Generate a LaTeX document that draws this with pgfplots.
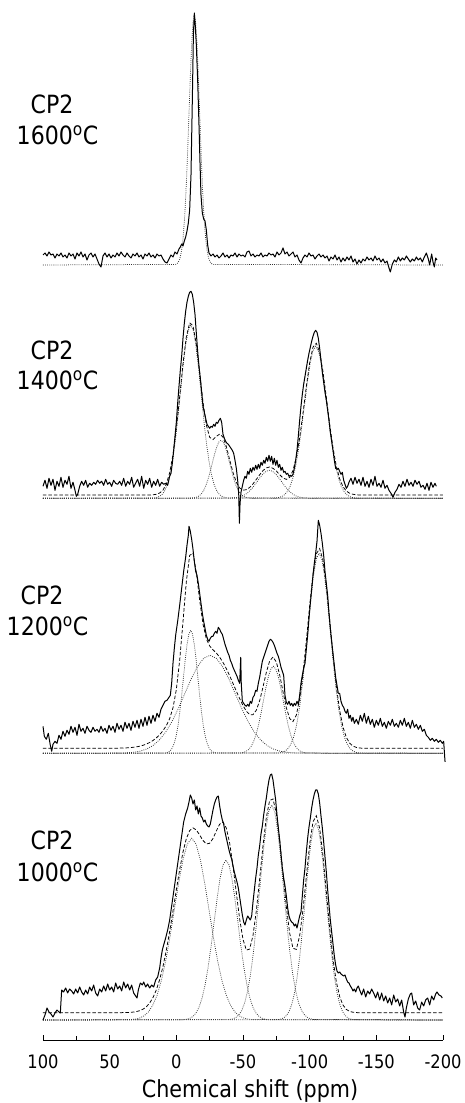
\documentclass[border=0pt]{standalone}
\usepackage{fontspec}
\setmainfont{DejaVu Sans}[FakeStretch=0.88]
\usepackage{pgfplots}
\pgfplotsset{compat=1.18}
\begin{document}
\begin{tikzpicture}[x=1pt,y=1pt]
\path[use as bounding box] (0,0) rectangle (465,1103);
\pgfplotsset{
  panel/.style={x=1.333333pt, y=1pt, xmin=-200, xmax=100, x dir=reverse,
    ymin=-30, ymax=260, hide axis, clip=false, anchor=south west},
  spec/.style={black, line width=1.0pt, line join=round, mark=none},
  fit/.style={black, line width=0.75pt, dash pattern=on 3.5pt off 2pt, mark=none},
  comp/.style={black!80, line width=0.75pt, dash pattern=on 0.8pt off 1.3pt, mark=none},
}
\newcommand{\lab}{\fontsize{25.1}{30}\selectfont}
% ---------------- 1600 ----------------
\begin{axis}[panel, at={(43pt,808pt)}]
\addplot[comp] coordinates {(100,0) (0.5,0.6) (-0.5,1.3) (-1.5,2.8) (-2.5,5.7) (-3.5,11.0) (-4.5,19.9) (-5.5,33.8) (-6.5,54.1) (-7.5,81.2) (-8.5,114.5) (-9.5,151.6) (-10.5,188.7) (-11.5,220.6) (-12.5,242.3) (-13.5,250) (-14.5,242.3) (-15.5,220.6) (-16.5,188.7) (-17.5,151.6) (-18.5,114.5) (-19.5,81.2) (-20.5,54.1) (-21.5,33.8) (-22.5,19.9) (-23.5,11.0) (-24.5,5.7) (-25.5,2.8) (-26.5,1.3) (-27.5,0.6) (-200,0)};
\addplot[spec] coordinates {(100,10) (98.5,12) (97,9) (95.5,13) (94,10) (92.5,11) (91,7) (89.5,11) (88,9) (86.5,12) (85,8) (83.5,10) (82,7) (80.5,12) (79,9) (77.5,11) (76,6) (74.5,12) (73,9) (71.5,13) (70,8) (68.5,11) (67,5) (65.5,10) (64,12) (62.5,8) (61,11) (59.5,6) (58,1) (56.5,-2) (55,9) (53.5,12) (52,8) (50.5,11) (49,7) (47.5,10) (46,8) (44.5,12) (43,9) (41.5,13) (40,10) (38.5,8) (37,12) (35.5,9) (34,7) (32.5,11) (31,9) (29.5,12) (28,8) (26.5,10) (25,6) (23.5,11) (22,9) (20.5,12) (19,8) (17.5,10) (16,7) (14.5,11) (13,9) (11.5,10) (10,6) (8.5,3) (7,2) (5.5,6) (4,10) (2.5,8) (1,13) (-0.5,11) (-2,16) (-3,18) (-4,21) (-5,19) (-6,24) (-7,28) (-8,34) (-9,42) (-10,55) (-11,90) (-12,165) (-12.8,230) (-13.5,252) (-14.2,240) (-15,220) (-16,185) (-17,140) (-17.8,100) (-18.5,70) (-19.5,52) (-20.5,46) (-21.5,44) (-22.5,35) (-23.5,20) (-24.5,12) (-26,9) (-27.5,11) (-29,8) (-30.5,10) (-32,7) (-33.5,9) (-35,12) (-36.5,8) (-38,10) (-39.5,7) (-41,10) (-42.5,9) (-44,12) (-45.5,8) (-47,11) (-48.5,9) (-50,10) (-51.5,8) (-53,13) (-54.5,14) (-56,9) (-57.5,11) (-59,8) (-60.5,10) (-62,9) (-63.5,12) (-65,8) (-66.5,10) (-68,9) (-69.5,12) (-71,10) (-72.5,11) (-74,8) (-75.5,13) (-77,10) (-78.5,12) (-80,17) (-81.5,11) (-83,13) (-84.5,9) (-86,11) (-87.5,13) (-89,8) (-90.5,10) (-92,5) (-93.5,2) (-95,7) (-96.5,10) (-98,8) (-99.5,12) (-101,9) (-102.5,10) (-104,6) (-105.5,9) (-107,11) (-108.5,8) (-110,10) (-111.5,7) (-113,9) (-114.5,4) (-116,8) (-117.5,6) (-119,10) (-120.5,5) (-122,8) (-123.5,3) (-125,7) (-126.5,4) (-128,8) (-129.5,5) (-131,9) (-132.5,3) (-134,6) (-135.5,1) (-137,5) (-138.5,2) (-140,6) (-141.5,4) (-143,8) (-144.5,5) (-146,7) (-147.5,4) (-149,9) (-150.5,5) (-152,7) (-153.5,3) (-155,6) (-156.5,2) (-158,4) (-159.5,-3) (-160.5,-7) (-162,1) (-163.5,5) (-165,3) (-166.5,8) (-168,4) (-169.5,7) (-171,5) (-172.5,9) (-174,6) (-175.5,3) (-177,6) (-178.5,4) (-180,8) (-181.5,5) (-183,7) (-184.5,3) (-186,8) (-187.5,12) (-189,6) (-190,0) (-191.5,11) (-192.5,3) (-193.5,-2) (-194.5,7) (-195.5,5)};
\end{axis}
% ---------------- 1400 ----------------
\begin{axis}[panel, at={(43pt,574.7pt)}]
\addplot[comp] coordinates {(100,0) (16.5,0.4) (14.55,0.9) (12.6,1.9) (10.65,3.9) (8.7,7.6) (6.75,13.8) (4.8,23.4) (2.85,37.4) (0.9,56.2) (-1.05,79.2) (-3,104.9) (-4.95,130.6) (-6.9,152.7) (-8.85,167.7) (-10.8,173) (-12.75,167.7) (-14.7,152.7) (-16.65,130.6) (-18.6,104.9) (-20.55,79.2) (-22.5,56.2) (-24.45,37.4) (-26.4,23.4) (-28.35,13.8) (-30.3,7.6) (-32.25,3.9) (-34.2,1.9) (-36.15,0.9) (-38.1,0.4) (-200,0)};
\addplot[comp] coordinates {(100,0) (-10.75,0.1) (-12.375,0.3) (-14,0.6) (-15.625,1.3) (-17.25,2.5) (-18.875,4.6) (-20.5,7.8) (-22.125,12.5) (-23.75,18.8) (-25.375,26.6) (-27,35.2) (-28.625,43.8) (-30.25,51.2) (-31.875,56.2) (-33.5,58) (-35.125,56.2) (-36.75,51.2) (-38.375,43.8) (-40,35.2) (-41.625,26.6) (-43.25,18.8) (-44.875,12.5) (-46.5,7.8) (-48.125,4.6) (-49.75,2.5) (-51.375,1.3) (-53,0.6) (-54.625,0.3) (-56.25,0.1) (-200,0)};
\addplot[comp] coordinates {(100,0) (-38.25,0.06) (-40.5,0.1) (-42.75,0.3) (-45,0.6) (-47.25,1.2) (-49.5,2.2) (-51.75,3.8) (-54,6.1) (-56.25,9.1) (-58.5,12.8) (-60.75,17.0) (-63,21.1) (-65.25,24.7) (-67.5,27.1) (-69.75,28) (-72,27.1) (-74.25,24.7) (-76.5,21.1) (-78.75,17.0) (-81,12.8) (-83.25,9.1) (-85.5,6.1) (-87.75,3.8) (-90,2.2) (-92.25,1.2) (-94.5,0.6) (-96.75,0.3) (-99,0.1) (-101.25,0.06) (-200,0)};
\addplot[comp] coordinates {(100,0) (-74.75,0.3) (-76.875,0.8) (-79,1.7) (-81.125,3.5) (-83.25,6.7) (-85.375,12.1) (-87.5,20.6) (-89.625,32.9) (-91.75,49.4) (-93.875,69.6) (-96,92.2) (-98.125,114.7) (-100.25,134.1) (-102.375,147.3) (-104.5,152) (-106.625,147.3) (-108.75,134.1) (-110.875,114.7) (-113,92.2) (-115.125,69.6) (-117.25,49.4) (-119.375,32.9) (-121.5,20.6) (-123.625,12.1) (-125.75,6.7) (-127.875,3.5) (-130,1.7) (-132.125,0.8) (-134.25,0.3) (-200,0)};
\addplot[fit] coordinates {(100,3.3) (20,3.3) (17.5,3.5) (15,4.0) (12.5,5.3) (10,8.2) (7.5,14.3) (5,25.5) (2.5,43.7) (0,69.7) (-2.5,101.5) (-5,134.6) (-7.5,161.5) (-10,175.5) (-12.5,172.5) (-15,154.0) (-17.5,125.7) (-20,96.3) (-22.5,73.4) (-25,61.0) (-27.5,58.7) (-30,61.9) (-32.5,64.2) (-35,61.2) (-37.5,51.8) (-40,38.6) (-42.5,25.8) (-45,16.0) (-47.5,10.3) (-50,8.1) (-52.5,8.6) (-55,10.8) (-57.5,14.4) (-60,18.9) (-62.5,23.5) (-65,27.7) (-67.5,30.4) (-70,31.3) (-72.5,30.0) (-75,27.3) (-77.5,23.6) (-80,20.3) (-82.5,18.9) (-85,20.9) (-87.5,27.9) (-90,41.0) (-92.5,60.5) (-95,85.2) (-97.5,111.8) (-100,135.4) (-102.5,151.2) (-105,155.0) (-107.5,146.1) (-110,126.6) (-112.5,100.9) (-115,74.2) (-117.5,50.5) (-120,32.1) (-122.5,19.5) (-125,11.6) (-127.5,7.2) (-130,5.0) (-132.5,4.0) (-135,3.5) (-137.5,3.3) (-200,3.3)};
\addplot[spec] coordinates {(100,12) (98.5,18) (97,10) (95.5,20) (94,13) (92.5,19) (91,8) (89.5,17) (88,12) (86.5,21) (85,11) (83.5,18) (82,14) (80.5,22) (79,10) (77.5,16) (76,8) (75,2) (74,4) (72.5,12) (71,17) (69.5,13) (68,18) (66.5,11) (65,15) (63.5,13) (62,16) (60.5,14) (59,18) (57.5,15) (56,17) (54.5,13) (53,19) (51.5,14) (50,16) (48.5,12) (47,18) (45.5,15) (44,14) (42.5,17) (41,13) (39.5,20) (38,12) (36.5,17) (35,14) (33.5,21) (32,11) (30.5,15) (29,19) (27.5,12) (26,22) (24.5,10) (23,18) (21.5,14) (20,20) (18.5,11) (17,17) (15.5,13) (14,19) (12.5,12) (11,16) (9.5,14) (8,15) (6.5,13) (5,22) (4,25) (3,35) (2,48) (1,62) (0,76) (-1,95) (-2,112) (-3,128) (-4,142) (-5,160) (-6,175) (-7,187) (-8,196) (-9,202) (-10,206) (-11,207) (-12,204) (-13,196) (-14,184) (-15,165) (-16,147) (-17,132) (-18,120) (-19,106) (-20,92) (-21,86) (-22,80) (-23,74) (-24,72) (-25,70) (-26,72) (-27,71) (-28,74) (-29,72) (-30,76) (-31,75) (-32,78) (-33,80) (-34,76) (-35,64) (-36,60) (-37,57) (-38,55) (-39,54) (-40,52) (-41,50) (-42,48) (-43,45) (-44,38) (-45,30) (-46,18) (-46.8,4) (-47.3,-25) (-47.8,-5) (-48.5,6) (-49.5,12) (-50.5,18) (-51.5,22) (-52.5,20) (-53.5,27) (-54.5,24) (-55.5,30) (-56.5,26) (-57.5,31) (-58.5,28) (-59.5,33) (-60.5,29) (-61.5,34) (-62.5,30) (-63.5,36) (-64.5,33) (-65.5,38) (-66.5,35) (-67.5,41) (-68.5,37) (-69.5,43) (-70.5,37) (-71.5,42) (-72.5,34) (-73.5,40) (-74.5,33) (-75.5,38) (-76.5,31) (-77.5,34) (-78.5,28) (-79.5,31) (-80.5,26) (-81.5,27) (-82.5,24) (-83.5,25) (-84.5,22) (-85.5,23) (-86.5,22) (-87.5,24) (-88.5,30) (-89.5,38) (-90.5,48) (-91.5,62) (-92.5,78) (-93.5,92) (-94.5,104) (-95.5,114) (-96.5,122) (-97.5,130) (-98.5,138) (-99.5,145) (-100.5,151) (-101.5,157) (-102.5,162) (-103.5,166) (-104.5,168) (-105.5,166) (-106.5,160) (-107.5,150) (-108.5,138) (-109.5,126) (-110.5,116) (-111.5,106) (-112.5,98) (-113.5,88) (-114.5,78) (-115.5,66) (-116.5,57) (-117.5,48) (-118.5,38) (-119.5,30) (-120.5,29) (-121.5,30) (-122.5,27) (-123.5,24) (-124.5,26) (-125.5,18) (-126.5,14) (-127.5,10) (-128.5,12) (-129.5,16) (-131,20) (-132.5,14) (-134,21) (-135.5,15) (-137,19) (-138.5,13) (-140,21) (-141.5,12) (-143,17) (-144.5,11) (-146,19) (-147.5,13) (-149,22) (-150.5,12) (-152,15) (-153.5,11) (-155,18) (-156.5,10) (-158,13) (-159.5,8) (-161,5) (-162.5,1) (-164,6) (-165.5,9) (-167,14) (-168.5,11) (-170,17) (-171.5,12) (-173,19) (-174.5,13) (-176,16) (-177.5,12) (-179,18) (-180.5,14) (-182,17) (-183.5,11) (-185,13) (-186.5,9) (-188,15) (-189.5,8) (-191,16) (-192.5,11) (-194,15) (-195,12)};
\end{axis}
% ---------------- 1200 ----------------
\begin{axis}[panel, at={(43pt,319.7pt)}]
\addplot[comp] coordinates {(100,0) (8.5,0.3) (7.125,0.6) (5.75,1.4) (4.375,2.8) (3,5.4) (1.625,9.8) (0.25,16.6) (-1.125,26.6) (-2.5,39.9) (-3.875,56.3) (-5.25,74.6) (-6.625,92.8) (-8,108.5) (-9.375,119.2) (-10.75,123) (-12.125,119.2) (-13.5,108.5) (-14.875,92.8) (-16.25,74.6) (-17.625,56.3) (-19,39.9) (-20.375,26.6) (-21.75,16.6) (-23.125,9.8) (-24.5,5.4) (-25.875,2.8) (-27.25,1.4) (-28.625,0.6) (-30,0.3) (-200,0)};
\addplot[comp] coordinates {(100,0) (41.25,0.2) (36.5,0.5) (31.75,1.1) (27,2.2) (22.25,4.3) (17.5,7.8) (12.75,13.3) (8,21.2) (3.25,31.8) (-1.5,44.9) (-6.25,59.4) (-11,74.0) (-15.75,86.5) (-20.5,95.0) (-25.25,98) (-30,95.0) (-34.75,86.5) (-39.5,74.0) (-44.25,59.4) (-49,44.9) (-53.75,31.8) (-58.5,21.2) (-63.25,13.3) (-68,7.8) (-72.75,4.3) (-77.5,2.2) (-82.25,1.1) (-87,0.5) (-91.75,0.2) (-200,0)};
\addplot[comp] coordinates {(100,0) (-46.85,0.2) (-48.7,0.4) (-50.55,1.0) (-52.4,2.0) (-54.25,3.8) (-56.1,6.9) (-57.95,11.8) (-59.8,18.8) (-61.65,28.2) (-63.5,39.8) (-65.35,52.8) (-67.2,65.7) (-69.05,76.8) (-70.9,84.3) (-72.75,87) (-74.6,84.3) (-76.45,76.8) (-78.3,65.7) (-80.15,52.8) (-82,39.8) (-83.85,28.2) (-85.7,18.8) (-87.55,11.8) (-89.4,6.9) (-91.25,3.8) (-93.1,2.0) (-94.95,1.0) (-96.8,0.4) (-98.65,0.2) (-200,0)};
\addplot[comp] coordinates {(100,0) (-77.25,0.4) (-79.375,1.0) (-81.5,2.2) (-83.625,4.6) (-85.75,8.8) (-87.875,15.9) (-90,27.1) (-92.125,43.3) (-94.25,64.9) (-96.375,91.6) (-98.5,121.3) (-100.625,151) (-102.75,176.5) (-104.875,193.8) (-107,200) (-109.125,193.8) (-111.25,176.5) (-113.375,151) (-115.5,121.3) (-117.625,91.6) (-119.75,64.9) (-121.875,43.3) (-124,27.1) (-126.125,15.9) (-128.25,8.8) (-130.375,4.6) (-132.5,2.2) (-134.625,1.0) (-136.75,0.4) (-200,0)};
\addplot[fit] coordinates {(100,5) (45,5.1) (42.5,5.2) (40,5.3) (37.5,5.4) (35,5.6) (32.5,6.0) (30,6.4) (27.5,7.1) (25,8.0) (22.5,9.2) (20,10.8) (17.5,12.8) (15,15.4) (12.5,18.6) (10,22.6) (7.5,27.7) (5,34.6) (2.5,45.5) (0,63.7) (-2.5,92.8) (-5,131.7) (-7.5,171.6) (-10,197.9) (-12.5,200.2) (-15,181.0) (-17.5,153.1) (-20,129.2) (-22.5,114.5) (-25,107.3) (-27.5,103.5) (-30,100.3) (-32.5,96.1) (-35,90.9) (-37.5,84.6) (-40,77.5) (-42.5,69.9) (-45,62.1) (-47.5,54.7) (-50,47.8) (-52.5,42.1) (-55,38.7) (-57.5,38.6) (-60,43.1) (-62.5,52.6) (-65,66.3) (-67.5,80.9) (-70,92.3) (-72.5,96.3) (-75,91.3) (-77.5,78.5) (-80,61.6) (-82.5,45.6) (-85,34.8) (-87.5,31.8) (-90,38.1) (-92.5,54.4) (-95,79.8) (-97.5,112.4) (-100,147.5) (-102.5,178.8) (-105,199.5) (-107.5,204.7) (-110,192.9) (-112.5,167.2) (-115,133.4) (-117.5,98.3) (-120,67.1) (-122.5,42.9) (-125,26.2) (-127.5,15.9) (-130,10.1) (-132.5,7.2) (-135,5.9) (-137.5,5.3) (-140,5) (-200,5)};
\addplot[spec] coordinates {(100,27) (99,17) (97.5,14) (96,20) (94.5,8) (93.5,2) (92.5,9) (91,12) (89.5,10) (88,18) (86.5,14) (85,22) (83.5,17) (82,23) (80.5,19) (79,27) (77.5,21) (76,26) (74.5,18) (73,29) (71.5,22) (70,25) (68.5,20) (67,27) (65.5,23) (64,21) (62.5,26) (61,22) (59.5,24) (58,21) (56.5,27) (55,22) (53.5,25) (52,20) (50.5,28) (49,23) (47.5,27) (46,21) (44.5,30) (43,24) (41.5,28) (40,22) (38.5,31) (37,25) (35.5,30) (34,23) (32.5,32) (31,26) (29.5,33) (28,25) (26.5,34) (25,27) (23.5,36) (22,28) (20.5,37) (19,30) (17.5,38) (16,32) (14.5,40) (13,36) (11.5,44) (10,48) (8.5,52) (7,53) (5.5,56) (4.5,58) (3.5,70) (2.5,90) (1.5,105) (0.5,118) (-1,132) (-2.5,148) (-4,165) (-5.5,182) (-7,196) (-8,208) (-9,218) (-9.5,227) (-10.5,222) (-11.5,214) (-12.5,204) (-13.5,192) (-14.5,182) (-15.5,178) (-16.5,170) (-17.5,160) (-18.5,150) (-19.5,140) (-20.5,132) (-21.5,125) (-22.5,118) (-23.5,114) (-24.5,112) (-25.5,115) (-26.5,117) (-27.5,117) (-28.5,120) (-29.5,122) (-30.5,120) (-31.5,126) (-32.5,124) (-33.5,121) (-34.5,119) (-35.5,114) (-36.5,109) (-37.5,105) (-38.5,101) (-39.5,98) (-40.5,93) (-41.5,90) (-42.5,86) (-43.5,83) (-44.5,80) (-45.5,77) (-46.5,73) (-47.5,70) (-48.3,96) (-48.7,70) (-49.5,52) (-50.5,50) (-51.5,48) (-52.5,47) (-53.5,49) (-54.5,47) (-55.5,52) (-56.5,50) (-57.5,56) (-58.5,58) (-59.5,63) (-60.5,62) (-61.5,70) (-62.5,76) (-63.5,84) (-64.5,92) (-65.5,96) (-66.5,100) (-67.5,104) (-68.5,108) (-69.5,112) (-70.5,114) (-71.5,113) (-72.5,111) (-73.5,108) (-74.5,104) (-75.5,100) (-76.5,97) (-77.5,92) (-78.5,86) (-79.5,82) (-80.5,78) (-81.5,58) (-82.5,51) (-83.5,49) (-84.5,52) (-85.5,48) (-86.5,50) (-87.5,47) (-88.5,50) (-89.5,48) (-90.5,52) (-91.5,49) (-92.5,58) (-93.5,70) (-94.5,78) (-95.5,85) (-96.5,90) (-97.5,104) (-98.5,118) (-99.5,135) (-100.5,150) (-101.5,164) (-102.5,178) (-103.5,190) (-104.5,200) (-105.5,212) (-106.5,233) (-107.5,228) (-108.5,220) (-109.5,210) (-110.5,198) (-111.5,182) (-112.5,170) (-113.5,158) (-114.5,140) (-115.5,125) (-116.5,112) (-117.5,100) (-118.5,88) (-119.5,76) (-120.5,68) (-121.5,60) (-122.5,60) (-123.5,52) (-124.5,48) (-125.5,46) (-126.5,42) (-127.5,40) (-128.5,44) (-129.5,35) (-130.5,38) (-131.5,32) (-132.5,36) (-133.5,30) (-135,34) (-136.5,29) (-138,38) (-139.5,32) (-141,40) (-142.5,30) (-144,37) (-145.5,29) (-147,34) (-148.5,26) (-150,33) (-151.5,28) (-153,35) (-154.5,27) (-156,31) (-157.5,25) (-159,32) (-160.5,28) (-162,34) (-163.5,27) (-165,30) (-166.5,26) (-168,33) (-169.5,28) (-171,35) (-172.5,27) (-174,31) (-175.5,25) (-177,33) (-178.5,26) (-180,29) (-181.5,24) (-183,28) (-184.5,22) (-186,24) (-187.5,18) (-189,16) (-190.5,13) (-192,15) (-193.5,12) (-195,14) (-196.5,11) (-198,13) (-199.5,10) (-200.5,12) (-201.5,-8) (-202,-8)};
\end{axis}
% ---------------- 1000 + x axis ----------------
\begin{axis}[x=1.333333pt, y=1pt, xmin=-200, xmax=100, x dir=reverse,
  ymin=-20, ymax=260, clip=false, anchor=south west, at={(43pt,63pt)},
  axis x line=bottom, axis y line=none, axis line style={black, line width=0.9pt, -},
  xtick={100,50,0,-50,-100,-150,-200},
  xticklabels={100,50,0,-50,-100,-150,-200},
  minor xtick={75,25,-25,-75,-125,-175},
  tick align=inside, major tick length=5pt, minor tick length=4pt,
  every tick/.style={black, line width=0.8pt},
  xticklabel style={font=\fontsize{18.5}{18.5}\selectfont, anchor=north, inner sep=0pt, yshift=-15pt},
  ]
\addplot[comp] coordinates {(100,0) (34,0.4) (30.75,0.9) (27.5,2.0) (24.25,4.1) (21,8.0) (17.75,14.5) (14.5,24.6) (11.25,39.3) (8,59.0) (4.75,83.2) (1.5,110.2) (-1.75,137.1) (-5,160.4) (-8.25,176.1) (-11.5,181.7) (-14.75,176.1) (-18,160.4) (-21.25,137.1) (-24.5,110.2) (-27.75,83.2) (-31,59.0) (-34.25,39.3) (-37.5,24.6) (-40.75,14.5) (-44,8.0) (-47.25,4.1) (-50.5,2.0) (-53.75,0.9) (-57,0.4) (-200,0)};
\addplot[comp] coordinates {(100,0) (-5.75,0.35) (-8,0.8) (-10.25,1.8) (-12.5,3.6) (-14.75,7.0) (-17,12.7) (-19.25,21.6) (-21.5,34.6) (-23.75,52.0) (-26,73.2) (-28.25,97.0) (-30.5,120.8) (-32.75,141.2) (-35,155.1) (-37.25,160) (-39.5,155.1) (-41.75,141.2) (-44,120.8) (-46.25,97.0) (-48.5,73.2) (-50.75,52.0) (-53,34.6) (-55.25,21.6) (-57.5,12.7) (-59.75,7.0) (-62,3.6) (-64.25,1.8) (-66.5,0.8) (-68.75,0.35) (-200,0)};
\addplot[comp] coordinates {(100,0) (-40,0.5) (-42.25,1.1) (-44.5,2.4) (-46.75,4.9) (-49,9.4) (-51.25,17.1) (-53.5,29.1) (-55.75,46.5) (-58,69.8) (-60.25,98.4) (-62.5,130.4) (-64.75,162.3) (-67,189.7) (-69.25,208.4) (-71.5,215) (-73.75,208.4) (-76,189.7) (-78.25,162.3) (-80.5,130.4) (-82.75,98.4) (-85,69.8) (-87.25,46.5) (-89.5,29.1) (-91.75,17.1) (-94,9.4) (-96.25,4.9) (-98.5,2.4) (-100.75,1.1) (-103,0.5) (-200,0)};
\addplot[comp] coordinates {(100,0) (-76.6,0.4) (-78.6,1.0) (-80.6,2.2) (-82.6,4.5) (-84.6,8.6) (-86.6,15.7) (-88.6,26.7) (-90.6,42.6) (-92.6,64.0) (-94.6,90.2) (-96.6,119.5) (-98.6,148.7) (-100.6,173.9) (-102.6,190.9) (-104.6,197) (-106.6,190.9) (-108.6,173.9) (-110.6,148.7) (-112.6,119.5) (-114.6,90.2) (-116.6,64.0) (-118.6,42.6) (-120.6,26.7) (-122.6,15.7) (-124.6,8.6) (-126.6,4.5) (-128.6,2.2) (-130.6,1.0) (-132.6,0.4) (-200,0)};
\addplot[fit] coordinates {(100,7.3) (45,7.3) (42.5,7.3) (40,7.4) (37.5,7.45) (35,7.6) (32.5,7.9) (30,8.4) (27.5,9.3) (25,10.8) (22.5,13.2) (20,17.0) (17.5,22.4) (15,30.1) (12.5,40.4) (10,53.6) (7.5,69.8) (5,88.5) (2.5,109.0) (0,130.2) (-2.5,150.3) (-5,168.0) (-7.5,181.3) (-10,189.4) (-12.5,192.1) (-15,190.0) (-17.5,185.0) (-20,179.5) (-22.5,176.1) (-25,176.7) (-27.5,181.5) (-30,189.0) (-32.5,195.8) (-35,197.9) (-37.5,191.9) (-40,176.9) (-42.5,154.1) (-45,127.1) (-47.5,100.9) (-50,80.7) (-52.5,69.9) (-55,70.9) (-57.5,84.5) (-60,109.1) (-62.5,140.9) (-65,174.3) (-67.5,202.7) (-70,219.5) (-72.5,221.0) (-75,206.6) (-77.5,180.1) (-80,146.6) (-82.5,113.5) (-85,86.9) (-87.5,71.7) (-90,70.6) (-92.5,84.2) (-95,110.3) (-97.5,143.5) (-100,175.7) (-102.5,198.2) (-105,204.3) (-107.5,191.8) (-110,164.2) (-112.5,128.3) (-115,91.9) (-117.5,61.0) (-120,38.2) (-122.5,23.4) (-125,14.9) (-127.5,10.6) (-130,8.6) (-132.5,7.75) (-135,7.4) (-137.5,7.3) (-200,7.3)};
\addplot[spec] coordinates {(100,0) (98.5,5) (97,12) (95.5,8) (94,6) (92.5,3) (91,7) (89.5,10) (88,8) (87,7) (86,30) (84.5,28) (83,32) (81.5,27) (80,31) (78.5,29) (77,26) (75.5,31) (74,27) (72.5,33) (71,28) (69.5,25) (68,30) (66.5,26) (65,33) (63.5,29) (62,35) (60.5,27) (59,24) (57.5,31) (56,28) (54.5,34) (53,29) (51.5,36) (50,30) (48.5,33) (47,28) (45.5,37) (44,31) (42.5,34) (41,29) (39.5,38) (38,32) (36.5,36) (35,30) (33.5,35) (32,27) (30.5,24) (29.5,22) (28.5,30) (27,37) (25.5,35) (24.5,38) (23,33) (21.5,36) (20,32) (18.5,35) (17,33) (15.5,40) (14,43) (12.5,52) (11.5,62) (10.5,70) (9.5,75) (8,82) (6.5,90) (5,100) (3.5,114) (2,128) (0.5,142) (-1,156) (-2.5,170) (-4,184) (-5.5,198) (-7,206) (-8.5,212) (-9.5,218) (-10.5,225) (-11.5,222) (-12.5,216) (-13.5,220) (-14.5,210) (-15.5,214) (-16.5,206) (-17.5,212) (-18.5,204) (-19.5,202) (-20.5,198) (-21.5,200) (-22.5,196) (-23.5,194) (-24.5,193) (-25.5,196) (-26.5,203) (-27.5,210) (-28.5,216) (-29.5,220) (-30.5,223) (-31.5,224) (-32.5,214) (-33.5,206) (-34.5,200) (-35.5,196) (-36.5,188) (-37.5,182) (-38.5,176) (-39.5,170) (-40.5,165) (-41.5,161) (-42.5,154) (-43.5,148) (-44.5,143) (-45.5,138) (-46.5,132) (-47.5,123) (-48.5,114) (-49.5,105) (-50.5,98) (-51.5,95) (-52.5,100) (-53.5,104) (-54.5,102) (-55.5,100) (-56.5,104) (-57.5,118) (-58.5,130) (-59.5,142) (-60.5,152) (-61.5,165) (-62.5,174) (-63.5,186) (-64.5,194) (-65.5,205) (-66.5,214) (-67.5,222) (-68.5,232) (-69.5,240) (-70.5,245) (-71.5,246) (-72.5,240) (-73.5,230) (-74.5,220) (-75.5,205) (-76.5,192) (-77.5,180) (-78.5,166) (-79.5,152) (-80.5,142) (-81.5,134) (-82.5,124) (-83.5,112) (-84.5,104) (-85.5,100) (-86.5,98) (-87.5,97) (-88.5,94) (-89.5,96) (-90.5,92) (-91.5,98) (-92.5,104) (-93.5,108) (-94.5,124) (-95.5,140) (-96.5,152) (-97.5,168) (-98.5,182) (-99.5,193) (-100.5,202) (-101.5,212) (-102.5,220) (-103.5,226) (-104.5,230) (-105.5,230) (-106.5,226) (-107.5,217) (-108.5,204) (-109.5,192) (-110.5,178) (-111.5,163) (-112.5,148) (-113.5,130) (-114.5,115) (-115.5,100) (-116.5,88) (-117.5,76) (-118.5,64) (-119.5,55) (-120.5,49) (-121.5,47) (-122.5,48) (-123.5,46) (-124.5,45) (-125.5,44) (-126.5,45) (-127.5,41) (-128.5,38) (-129.5,37) (-130.5,34) (-131.5,32) (-132.5,29) (-133.5,31) (-134.5,28) (-135.5,32) (-136.5,34) (-137.5,30) (-139,25) (-140.5,31) (-142,23) (-143.5,29) (-145,26) (-146.5,31) (-148,27) (-149.5,22) (-151,28) (-152.5,20) (-154,27) (-155.5,19) (-157,24) (-158.5,17) (-160,22) (-161.5,15) (-163,25) (-164.5,18) (-166,21) (-167.5,14) (-169,20) (-170.5,8) (-171.5,3) (-172.5,12) (-174,21) (-175.5,26) (-176.5,27) (-178,15) (-179.5,19) (-181,12) (-182.5,10) (-184,18) (-185.5,14) (-187,20) (-188.5,22) (-190,15) (-191.5,24) (-193,20) (-194.5,26) (-195.5,28) (-197,25) (-198.5,24) (-199.5,22)};
\end{axis}
% ---------------- labels ----------------
\node[anchor=base, font=\lab, inner sep=0pt] at (52,989) {CP2};
\node[anchor=base, font=\lab, inner sep=0pt] at (57.5,958) {1600\textsuperscript{o}C};
\node[anchor=base, font=\lab, inner sep=0pt] at (52,743) {CP2};
\node[anchor=base, font=\lab, inner sep=0pt] at (57.5,713) {1400\textsuperscript{o}C};
\node[anchor=base, font=\lab, inner sep=0pt] at (42,498) {CP2};
\node[anchor=base, font=\lab, inner sep=0pt] at (47.5,467) {1200\textsuperscript{o}C};
\node[anchor=base, font=\lab, inner sep=0pt] at (52,253) {CP2};
\node[anchor=base, font=\lab, inner sep=0pt] at (57.5,221) {1000\textsuperscript{o}C};
\node[anchor=base, font=\fontsize{23.5}{23.5}\selectfont, inner sep=0pt] at (250,5.3) {Chemical shift (ppm)};
\end{tikzpicture}
\end{document}
